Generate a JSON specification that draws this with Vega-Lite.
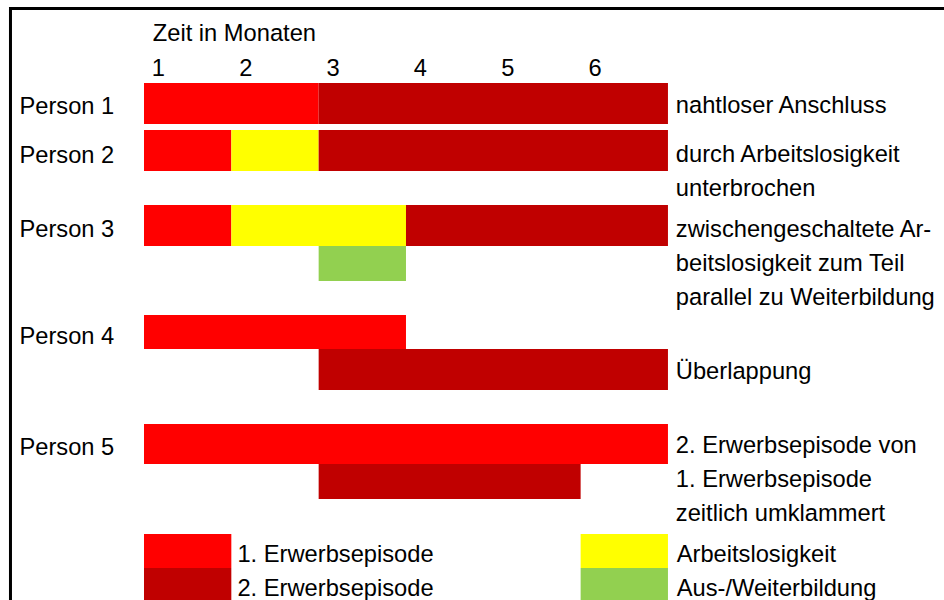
{
  "$schema": "https://vega.github.io/schema/vega-lite/v6.json",
  "width": 944,
  "height": 600,
  "autosize": {"type": "none"},
  "padding": 0,
  "background": "white",
  "config": {"view": {"stroke": null}},
  "datasets": {
    "bars": [
      {"person": "Person 1", "kind": "1. Erwerbsepisode", "start": 0, "end": 2, "top": 8.3, "bottom": 12.4},
      {"person": "Person 1", "kind": "2. Erwerbsepisode", "start": 2, "end": 6, "top": 8.3, "bottom": 12.4},
      {"person": "Person 2", "kind": "1. Erwerbsepisode", "start": 0, "end": 1, "top": 13.0, "bottom": 17.1},
      {"person": "Person 2", "kind": "Arbeitslosigkeit", "start": 1, "end": 2, "top": 13.0, "bottom": 17.1},
      {"person": "Person 2", "kind": "2. Erwerbsepisode", "start": 2, "end": 6, "top": 13.0, "bottom": 17.1},
      {"person": "Person 3", "kind": "1. Erwerbsepisode", "start": 0, "end": 1, "top": 20.5, "bottom": 24.6},
      {"person": "Person 3", "kind": "Arbeitslosigkeit", "start": 1, "end": 3, "top": 20.5, "bottom": 24.6},
      {"person": "Person 3", "kind": "2. Erwerbsepisode", "start": 3, "end": 6, "top": 20.5, "bottom": 24.6},
      {"person": "Person 3", "kind": "Aus-/Weiterbildung", "start": 2, "end": 3, "top": 24.6, "bottom": 28.1},
      {"person": "Person 4", "kind": "1. Erwerbsepisode", "start": 0, "end": 3, "top": 31.5, "bottom": 34.9},
      {"person": "Person 4", "kind": "2. Erwerbsepisode", "start": 2, "end": 6, "top": 34.9, "bottom": 39.0},
      {"person": "Person 5", "kind": "1. Erwerbsepisode", "start": 0, "end": 6, "top": 42.4, "bottom": 46.4},
      {"person": "Person 5", "kind": "2. Erwerbsepisode", "start": 2, "end": 5, "top": 46.4, "bottom": 49.9},
      {"person": "Legende", "kind": "1. Erwerbsepisode", "start": 0, "end": 1, "top": 53.4, "bottom": 56.8},
      {"person": "Legende", "kind": "2. Erwerbsepisode", "start": 0, "end": 1, "top": 56.8, "bottom": 61},
      {"person": "Legende", "kind": "Arbeitslosigkeit", "start": 5, "end": 6, "top": 53.4, "bottom": 56.8},
      {"person": "Legende", "kind": "Aus-/Weiterbildung", "start": 5, "end": 6, "top": 56.8, "bottom": 61}
    ],
    "labels": [
      {"label": "Zeit in Monaten", "tx": 0.1, "ty": 4.05},
      {"label": "1", "tx": 0.09, "ty": 7.6},
      {"label": "2", "tx": 1.09, "ty": 7.6},
      {"label": "3", "tx": 2.09, "ty": 7.6},
      {"label": "4", "tx": 3.09, "ty": 7.6},
      {"label": "5", "tx": 4.09, "ty": 7.6},
      {"label": "6", "tx": 5.09, "ty": 7.6},
      {"label": "Person 1", "tx": -1.426, "ty": 11.35},
      {"label": "Person 2", "tx": -1.426, "ty": 16.25},
      {"label": "Person 3", "tx": -1.426, "ty": 23.65},
      {"label": "Person 4", "tx": -1.426, "ty": 34.35},
      {"label": "Person 5", "tx": -1.426, "ty": 45.45},
      {"label": "nahtloser Anschluss", "tx": 6.09, "ty": 11.3},
      {"label": "durch Arbeitslosigkeit", "tx": 6.09, "ty": 16.2},
      {"label": "unterbrochen", "tx": 6.09, "ty": 19.55},
      {"label": "zwischengeschaltete Ar-", "tx": 6.09, "ty": 23.65},
      {"label": "beitslosigkeit zum Teil", "tx": 6.09, "ty": 27.05},
      {"label": "parallel zu Weiterbildung", "tx": 6.09, "ty": 30.45},
      {"label": "Überlappung", "tx": 6.09, "ty": 37.85},
      {"label": "2. Erwerbsepisode von", "tx": 6.09, "ty": 45.25},
      {"label": "1. Erwerbsepisode", "tx": 6.09, "ty": 48.65},
      {"label": "zeitlich umklammert", "tx": 6.09, "ty": 52.05},
      {"label": "1. Erwerbsepisode", "tx": 1.07, "ty": 56.15},
      {"label": "2. Erwerbsepisode", "tx": 1.07, "ty": 59.55},
      {"label": "Arbeitslosigkeit", "tx": 6.1, "ty": 56.15},
      {"label": "Aus-/Weiterbildung", "tx": 6.1, "ty": 59.55}
    ],
    "frame": [
      {"x1": -1.529, "x2": 9.6, "y1": 0.85, "y2": 62}
    ]
  },
  "layer": [
    {
      "data": {"name": "frame"},
      "mark": {"type": "rect", "fill": null, "stroke": "black", "strokeWidth": 3},
      "encoding": {
        "x": {"field": "x1", "type": "quantitative", "scale": {"domain": [-1.649, 9.161], "nice": false, "zero": false}, "axis": null},
        "x2": {"field": "x2"},
        "y": {"field": "y1", "type": "quantitative", "scale": {"domain": [0, 60], "reverse": true, "nice": false, "zero": false}, "axis": null},
        "y2": {"field": "y2"}
      }
    },
    {
      "data": {"name": "bars"},
      "mark": {"type": "rect"},
      "encoding": {
        "x": {"field": "start", "type": "quantitative"},
        "x2": {"field": "end"},
        "y": {"field": "top", "type": "quantitative"},
        "y2": {"field": "bottom"},
        "color": {
          "field": "kind",
          "type": "nominal",
          "scale": {
            "domain": ["1. Erwerbsepisode", "2. Erwerbsepisode", "Arbeitslosigkeit", "Aus-/Weiterbildung"],
            "range": ["#FF0000", "#C00000", "#FFFF00", "#92D050"]
          },
          "legend": null
        }
      }
    },
    {
      "data": {"name": "labels"},
      "mark": {"type": "text", "align": "left", "baseline": "alphabetic", "font": "Liberation Sans", "fontSize": 23.7, "color": "black"},
      "encoding": {
        "x": {"field": "tx", "type": "quantitative"},
        "y": {"field": "ty", "type": "quantitative"},
        "text": {"field": "label"}
      }
    }
  ]
}
